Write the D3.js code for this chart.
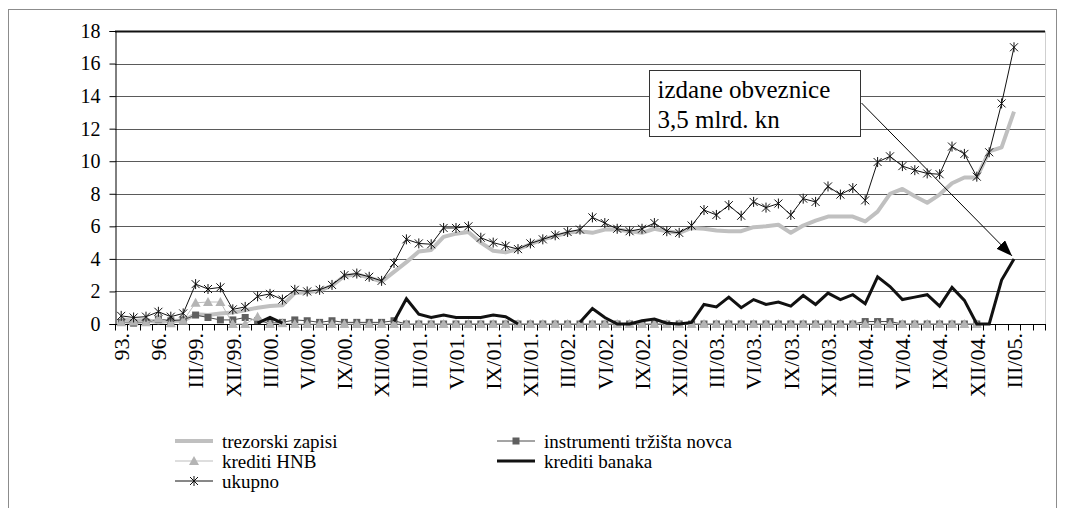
<!DOCTYPE html>
<html>
<head>
<meta charset="utf-8">
<script src="https://cdn.jsdelivr.net/npm/d3@7"></script>
<style>
  html, body { margin: 0; padding: 0; background: #fff; }
  #chart { width: 1065px; height: 508px; }
  #chart svg, #chart svg text { font-family: "Liberation Serif", "Times New Roman", "DejaVu Serif", serif; }
</style>
</head>
<body>
<div id="chart"></div>
<script>
// ── DATA ──────────────────────────────────────────────────────────────────
// Categories: years 93.–98., quarters of 1999, then months I/00. – V/05.
const categories = [
  "93.","94.","95.","96.","97.","98.",
  "III/99.","VI/99.","IX/99.","XII/99.",
  "I/00.","II/00.","III/00.","IV/00.","V/00.","VI/00.","VII/00.","VIII/00.","IX/00.","X/00.","XI/00.","XII/00.",
  "I/01.","II/01.","III/01.","IV/01.","V/01.","VI/01.","VII/01.","VIII/01.","IX/01.","X/01.","XI/01.","XII/01.",
  "I/02.","II/02.","III/02.","IV/02.","V/02.","VI/02.","VII/02.","VIII/02.","IX/02.","X/02.","XI/02.","XII/02.",
  "I/03.","II/03.","III/03.","IV/03.","V/03.","VI/03.","VII/03.","VIII/03.","IX/03.","X/03.","XI/03.","XII/03.",
  "I/04.","II/04.","III/04.","IV/04.","V/04.","VI/04.","VII/04.","VIII/04.","IX/04.","X/04.","XI/04.","XII/04.",
  "I/05.","II/05.","III/05.","IV/05.","V/05."
];

const yTicks = [0, 2, 4, 6, 8, 10, 12, 14, 16, 18];

const trezorskiZapisi = [
  0.3,0.2,0.25,0.1,0.2,0.2,
  0.6,0.55,0.65,0.7,
  0.85,1.0,1.1,1.15,1.9,1.95,2.05,2.35,2.95,3.05,2.85,2.6,
  3.2,3.8,4.45,4.55,5.35,5.55,5.65,5.0,4.5,4.4,4.6,4.9,
  5.2,5.4,5.6,5.7,5.6,5.8,5.8,5.7,5.6,5.85,5.7,5.6,
  5.9,5.85,5.75,5.7,5.7,5.95,6.0,6.1,5.6,6.05,6.35,6.6,
  6.6,6.6,6.3,6.9,8.0,8.3,7.85,7.45,7.95,8.65,9.0,9.0,
  10.6,10.85,13.05,null,null
];

const instrumentiTrzista = [
  0.1,0.05,0.1,0.3,0.2,0.25,
  0.55,0.4,0.25,0.25,
  0.4,0.2,0.05,0.1,0.25,0.2,0.1,0.2,0.1,0.1,0.1,0.1,
  0.2,0,0,0,0,0,0,0,0,0,0,0,
  0,0,0,0,0,0,0,0,0,0,0,0,
  0,0,0,0,0,0,0,0,0,0,0,0,
  0,0,0.15,0.15,0.15,0,0,0,0,0,0,0,
  null,null,null,null,null
];

const kreditiHNB = [
  0.1,0.15,0.1,0.35,0.05,0.2,
  1.3,1.35,1.35,0,
  0,0.45,0,0.05,0,0,0,0,0,0,0,0,
  0,0,0,0,0,0,0,0,0,0,0,0,
  0,0,0,0,0,0,0,0,0,0,0,0,
  0,0,0,0,0,0,0,0,0,0,0,0,
  0,0,0,0,0,0,0,0,0,0,0,0,
  null,null,null,null,null
];

const kreditiBanaka = [
  null,null,null,null,null,null,
  null,null,null,null,
  null,0.05,0.4,0.05,null,null,null,null,null,null,null,null,
  0.15,1.55,0.6,0.4,0.55,0.4,0.4,0.4,0.55,0.45,0,null,
  null,null,null,0.1,0.95,0.4,0,0,0.2,0.3,0.05,0,
  0.1,1.2,1.05,1.65,1.0,1.5,1.2,1.35,1.1,1.75,1.2,1.9,
  1.5,1.8,1.25,2.9,2.3,1.5,1.65,1.8,1.1,2.25,1.45,0,
  0,2.7,4.0,null,null
];

const ukupno = [
  0.5,0.4,0.45,0.75,0.45,0.65,
  2.45,2.15,2.25,0.9,
  1.05,1.7,1.85,1.5,2.1,2.0,2.1,2.4,3.0,3.1,2.9,2.65,
  3.75,5.2,4.95,4.9,5.9,5.9,6.0,5.3,5.0,4.8,4.6,4.95,
  5.2,5.45,5.65,5.8,6.55,6.2,5.85,5.7,5.85,6.2,5.7,5.6,
  6.05,7.0,6.7,7.3,6.65,7.5,7.15,7.4,6.7,7.7,7.5,8.45,
  7.95,8.35,7.6,9.95,10.3,9.7,9.45,9.25,9.2,10.9,10.45,9.05,
  10.55,13.55,17.0,null,null
];

const legendLabels = ["trezorski zapisi", "instrumenti tržišta novca", "krediti HNB", "krediti banaka", "ukupno"];
const noteLines = ["izdane obveznice", "3,5 mlrd. kn"];

// ── LAYOUT ────────────────────────────────────────────────────────────────
const WIDTH = 1065, HEIGHT = 508;
const FONT = "Liberation Serif, Times New Roman, DejaVu Serif, serif";
const plot = { left: 115, right: 1045, top: 31, bottom: 324 };

const x = d3.scaleBand().domain(categories).range([plot.left, plot.right]).padding(0);
const y = d3.scaleLinear().domain([0, 18]).range([plot.bottom, plot.top]);
const cx = i => x(categories[i]) + x.bandwidth() / 2;

const svg = d3.select("#chart").append("svg")
  .attr("width", WIDTH).attr("height", HEIGHT)
  .style("display", "block");

svg.append("rect").attr("width", WIDTH).attr("height", HEIGHT).attr("fill", "#fff");

// outer chart frame (bottom edge falls outside the picture)
svg.append("rect")
  .attr("x", 8.5).attr("y", 9.5)
  .attr("width", 1048).attr("height", 520)
  .attr("fill", "none").attr("stroke", "#8c8c8c").attr("stroke-width", 1);

// ── GRID ──────────────────────────────────────────────────────────────────
svg.append("g")
  .selectAll("line")
  .data(yTicks.filter(d => d > 0))
  .join("line")
  .attr("x1", plot.left).attr("x2", plot.right)
  .attr("y1", d => Math.round(y(d)) + 0.5).attr("y2", d => Math.round(y(d)) + 0.5)
  .attr("stroke", d => d === 18 ? "#111" : "#5a5a5a")
  .attr("stroke-width", d => d === 18 ? 2 : 1);

// right edge of plot area
svg.append("line")
  .attr("x1", plot.right + 0.5).attr("x2", plot.right + 0.5)
  .attr("y1", plot.top).attr("y2", plot.bottom)
  .attr("stroke", "#cfcfcf");

// ── Y AXIS ────────────────────────────────────────────────────────────────
const yAxis = svg.append("g")
  .attr("transform", `translate(${plot.left + 0.5},0)`)
  .call(d3.axisLeft(y).tickValues(yTicks).tickSize(6).tickPadding(9).tickFormat(d3.format("d")))
  .attr("font-family", null);
yAxis.select(".domain").attr("stroke", "#000");
yAxis.selectAll(".tick line").attr("stroke", "#000");
yAxis.selectAll(".tick text")
  .attr("fill", "#000").style("font-family", FONT).style("font-size", "20px");

// ── X AXIS ────────────────────────────────────────────────────────────────
const yZero = Math.round(y(0)) + 0.5;
svg.append("line")
  .attr("x1", plot.left).attr("x2", plot.right + 1)
  .attr("y1", yZero).attr("y2", yZero)
  .attr("stroke", "#000");

// tick marks sit between categories
svg.append("g")
  .selectAll("line")
  .data(categories.map(c => x(c)).concat([plot.right]))
  .join("line")
  .attr("x1", d => Math.round(d) + 0.5).attr("x2", d => Math.round(d) + 0.5)
  .attr("y1", yZero).attr("y2", yZero + 6)
  .attr("stroke", "#000");

// every third category is labelled, reading upward
svg.append("g")
  .selectAll("text")
  .data(categories.filter((c, i) => i % 3 === 0))
  .join("text")
  .attr("transform", c => `translate(${x(c) + x.bandwidth() / 2},${plot.bottom + 9}) rotate(-90)`)
  .attr("text-anchor", "end")
  .attr("dy", "0.35em")
  .style("font-family", FONT)
  .style("font-size", "22px")
  .attr("fill", "#000")
  .text(c => c);

// ── SERIES ────────────────────────────────────────────────────────────────
const lineGen = d3.line()
  .defined(d => d != null)
  .x((d, i) => cx(i))
  .y(d => y(d));

const starPath = "M-4,-4L4,4M-4,4L4,-4M0,-5L0,5";
const triPath = "M0,-5L5,4L-5,4Z";

function points(values) {
  return values.map((v, i) => ({ v, i })).filter(d => d.v != null);
}

// trezorski zapisi – thick light grey
svg.append("path").datum(trezorskiZapisi)
  .attr("fill", "none").attr("stroke", "#c0c0c0").attr("stroke-width", 4)
  .attr("stroke-linejoin", "round").attr("d", lineGen);

// instrumenti tržišta novca – thin dark line, square markers
svg.append("path").datum(instrumentiTrzista)
  .attr("fill", "none").attr("stroke", "#4a4a4a").attr("stroke-width", 1)
  .attr("d", lineGen);
svg.append("g").selectAll("rect")
  .data(points(instrumentiTrzista))
  .join("rect")
  .attr("x", d => cx(d.i) - 3.5).attr("y", d => y(d.v) - 3.5)
  .attr("width", 7).attr("height", 7)
  .attr("fill", "#5f5f5f");

// krediti HNB – thin light line, triangle markers
svg.append("path").datum(kreditiHNB)
  .attr("fill", "none").attr("stroke", "#bdbdbd").attr("stroke-width", 1)
  .attr("d", lineGen);
svg.append("g").selectAll("path")
  .data(points(kreditiHNB))
  .join("path")
  .attr("transform", d => `translate(${cx(d.i)},${y(d.v)})`)
  .attr("d", triPath)
  .attr("fill", "#b4b4b4");

// krediti banaka – thick black
svg.append("path").datum(kreditiBanaka)
  .attr("fill", "none").attr("stroke", "#111").attr("stroke-width", 3)
  .attr("stroke-linejoin", "miter").attr("d", lineGen);

// ukupno – thin black line, star markers
svg.append("path").datum(ukupno)
  .attr("fill", "none").attr("stroke", "#111").attr("stroke-width", 1)
  .attr("d", lineGen);
svg.append("g").selectAll("path")
  .data(points(ukupno))
  .join("path")
  .attr("transform", d => `translate(${cx(d.i)},${y(d.v)})`)
  .attr("d", starPath)
  .attr("fill", "none").attr("stroke", "#111").attr("stroke-width", 1);

// ── ANNOTATION ────────────────────────────────────────────────────────────
const note = { x: 649.5, y: 70.5, w: 211, h: 66 };
svg.append("rect")
  .attr("x", note.x).attr("y", note.y).attr("width", note.w).attr("height", note.h)
  .attr("fill", "#fff").attr("stroke", "#333").attr("stroke-width", 1);
svg.append("g").selectAll("text")
  .data(noteLines)
  .join("text")
  .attr("x", note.x + 8)
  .attr("y", (d, i) => note.y + 27 + i * 30)
  .style("font-family", FONT).style("font-size", "25px").attr("fill", "#000")
  .text(d => d);

svg.append("defs").append("marker")
  .attr("id", "arrow")
  .attr("viewBox", "0 0 16 12")
  .attr("refX", 16).attr("refY", 6)
  .attr("markerWidth", 16).attr("markerHeight", 12)
  .attr("markerUnits", "userSpaceOnUse")
  .attr("orient", "auto")
  .append("path").attr("d", "M0,0L16,6L0,12Z").attr("fill", "#000");

const lastIdx = kreditiBanaka.findIndex((v, i) => i > 70 && v === 4.0);
svg.append("line")
  .attr("x1", note.x + note.w + 1).attr("y1", 103)
  .attr("x2", cx(lastIdx) - 2).attr("y2", y(kreditiBanaka[lastIdx]) - 3)
  .attr("stroke", "#000").attr("stroke-width", 1)
  .attr("marker-end", "url(#arrow)");

// ── LEGEND ────────────────────────────────────────────────────────────────
const legendItems = [
  { label: legendLabels[0], col: 0, row: 0, type: "trez" },
  { label: legendLabels[1], col: 1, row: 0, type: "instr" },
  { label: legendLabels[2], col: 0, row: 1, type: "hnb" },
  { label: legendLabels[3], col: 1, row: 1, type: "banaka" },
  { label: legendLabels[4], col: 0, row: 2, type: "ukupno" }
];
const legendCols = [175, 497];
const legendRows = [441, 461, 481];
const swatchW = 38;

const leg = svg.append("g").selectAll("g")
  .data(legendItems)
  .join("g")
  .attr("transform", d => `translate(${legendCols[d.col]},${legendRows[d.row]})`);

leg.append("line")
  .attr("x1", 0).attr("x2", swatchW).attr("y1", 0).attr("y2", 0)
  .attr("stroke", d => ({ trez: "#c0c0c0", instr: "#4a4a4a", hnb: "#bdbdbd", banaka: "#111", ukupno: "#111" })[d.type])
  .attr("stroke-width", d => d.type === "trez" ? 4 : d.type === "banaka" ? 3 : 1);

leg.filter(d => d.type === "instr").append("rect")
  .attr("x", swatchW / 2 - 3.5).attr("y", -3.5).attr("width", 7).attr("height", 7)
  .attr("fill", "#5f5f5f");
leg.filter(d => d.type === "hnb").append("path")
  .attr("transform", `translate(${swatchW / 2},0)`).attr("d", triPath).attr("fill", "#b4b4b4");
leg.filter(d => d.type === "ukupno").append("path")
  .attr("transform", `translate(${swatchW / 2},0)`).attr("d", starPath)
  .attr("fill", "none").attr("stroke", "#111");

leg.append("text")
  .attr("x", 47)
  .attr("dy", "0.35em")
  .style("font-family", FONT).style("font-size", "19px").attr("fill", "#000")
  .text(d => d.label);
</script>
</body>
</html>
